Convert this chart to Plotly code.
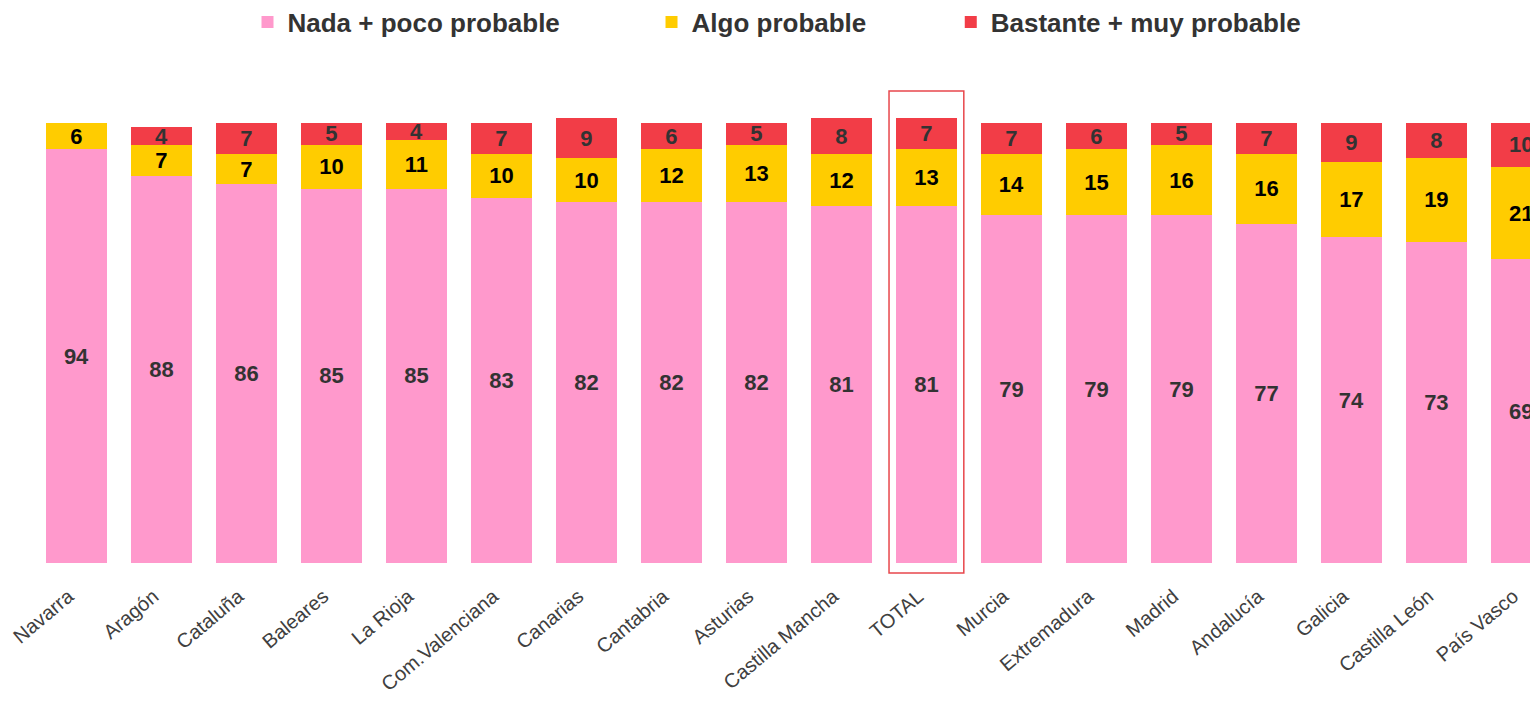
import plotly.graph_objects as go

categories = ["Navarra", "Aragón", "Cataluña", "Baleares", "La Rioja", "Com.Valenciana",
              "Canarias", "Cantabria", "Asturias", "Castilla Mancha", "TOTAL", "Murcia",
              "Extremadura", "Madrid", "Andalucía", "Galicia", "Castilla León", "País Vasco"]
nada_poco = [94, 88, 86, 85, 85, 83, 82, 82, 82, 81, 81, 79, 79, 79, 77, 74, 73, 69]
algo = [6, 7, 7, 10, 11, 10, 10, 12, 13, 12, 13, 14, 15, 16, 16, 17, 19, 21]
bastante_muy = [0, 4, 7, 5, 4, 7, 9, 6, 5, 8, 7, 7, 6, 5, 7, 9, 8, 10]
legend_names = ["Nada + poco probable", "Algo probable", "Bastante + muy probable"]

FONT = "Liberation Sans"
series = [
    (legend_names[0], nada_poco, "#FF99CC", "#333333"),
    (legend_names[1], algo, "#FFCC00", "#000000"),
    (legend_names[2], bastante_muy, "#F23D47", "#333333"),
]
pads = [12, 11, 0]

x = list(range(len(categories)))
fig = go.Figure()
for (name, vals, color, tcol), pad in zip(series, pads):
    fig.add_trace(go.Bar(
        x=x, y=vals, name="<b>" + name + "</b>" + "\u00a0" * pad,
        marker=dict(color=color, line=dict(width=0)),
        text=["<b>%d</b>" % v if v > 0 else "" for v in vals],
        textposition="inside", insidetextanchor="middle", textangle=0,
        constraintext="none",
        textfont=dict(family=FONT, size=22, color=tcol),
        width=0.72,
        hoverinfo="skip",
        cliponaxis=False,
    ))

fig.add_shape(type="rect", xref="x", yref="paper",
              x0=10 - 0.44, x1=10 + 0.44, y0=-0.0203, y1=0.9574,
              line=dict(color="#E8474C", width=1.5), fillcolor="rgba(0,0,0,0)")

fig.update_layout(
    barmode="stack",
    width=1538, height=704,
    margin=dict(l=26, r=0, t=62, b=149, autoexpand=False),
    paper_bgcolor="white", plot_bgcolor="white",
    uniformtext=dict(minsize=22, mode="show"),
    font=dict(family=FONT, color="#333333"),
    legend=dict(orientation="h", x=0.5, xanchor="center", xref="container",
                y=0.98, yanchor="middle", yref="container",
                font=dict(size=26, color="#333333", family=FONT),
                traceorder="normal", itemwidth=30),
    showlegend=True,
)
fig.update_xaxes(
    tickmode="array", tickvals=x, ticktext=categories, tickangle=-40,
    range=[-0.5, 17.29], showgrid=False, zeroline=False, showline=False,
    ticks="outside", ticklen=13, tickcolor="rgba(0,0,0,0)", automargin=False,
    ticklabelshift=-8,
    tickfont=dict(size=20, color="#404040", family=FONT),
)
fig.update_yaxes(range=[0, 112], visible=False, showgrid=False, zeroline=False, automargin=False)

fig.write_html("out.html")
